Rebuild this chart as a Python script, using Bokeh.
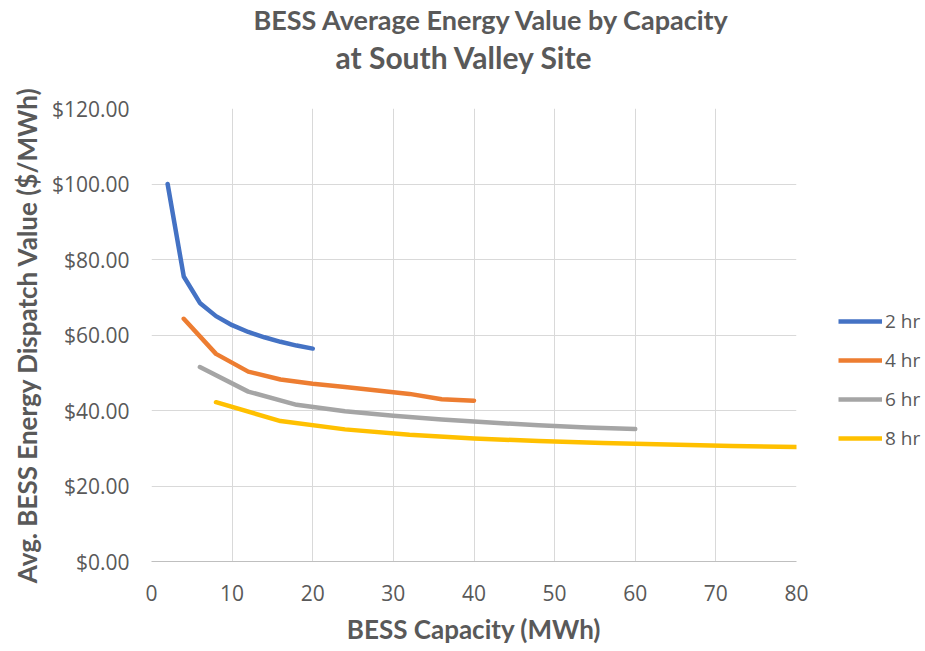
from bokeh.plotting import figure
from bokeh.layouts import row
from bokeh.models import Range1d, FixedTicker, NumeralTickFormatter, Legend, LegendItem, Title
from bokeh.embed import file_html
from bokeh.resources import INLINE

# BESS capacity (MWh) and average energy dispatch value ($/MWh) per duration
cap_2hr = [2, 4, 6, 8, 10, 12, 14, 16, 18, 20]
val_2hr = [100.0, 75.5, 68.5, 65.0, 62.6, 60.8, 59.4, 58.2, 57.2, 56.4]

cap_4hr = [4, 8, 12, 16, 20, 24, 28, 32, 36, 40]
val_4hr = [64.3, 55.0, 50.3, 48.2, 47.1, 46.2, 45.3, 44.4, 43.0, 42.6]

cap_6hr = [6, 12, 18, 24, 30, 36, 42, 48, 54, 60]
val_6hr = [51.5, 45.0, 41.5, 39.8, 38.6, 37.6, 36.8, 36.1, 35.5, 35.1]

cap_8hr = [8, 16, 24, 32, 40, 48, 56, 64, 72, 80]
val_8hr = [42.2, 37.2, 35.0, 33.6, 32.6, 31.9, 31.4, 31.0, 30.6, 30.3]

series_names = ["2 hr", "4 hr", "6 hr", "8 hr"]
series_colors = ["#4472C4", "#ED7D31", "#A5A5A5", "#FFC000"]

x_ticks = [0, 10, 20, 30, 40, 50, 60, 70, 80]
y_ticks = [0, 20, 40, 60, 80, 100, 120]

HEAD_FONT = "Lato"
TICK_FONT = "Open Sans"
TEXT = "#595959"
GRID = "#d9d9d9"

p = figure(
    width=830, height=651,
    x_range=Range1d(0, 80), y_range=Range1d(0, 120),
    output_backend="svg", toolbar_location=None,
    min_border_left=151, min_border_right=34,
    min_border_top=108, min_border_bottom=90,
    background_fill_color="white", border_fill_color="white",
)
p.outline_line_color = None
p.title.visible = False

# two-line chart title; the second line sits in the panel next to the frame
sub = Title(text="at South Valley Site", align="left", offset=184,
            text_font=HEAD_FONT, text_font_size="30px", text_font_style="bold",
            text_color=TEXT, standoff=68)
main = Title(text="BESS Average Energy Value by Capacity", align="left", offset=102,
             text_font=HEAD_FONT, text_font_size="27px", text_font_style="bold",
             text_color=TEXT, standoff=-67)
p.add_layout(sub, "above")
p.add_layout(main, "above")

# axes
p.xaxis.ticker = FixedTicker(ticks=x_ticks)
p.yaxis.ticker = FixedTicker(ticks=y_ticks)
p.yaxis.formatter = NumeralTickFormatter(format="$0.00")
for ax in (p.xaxis[0], p.yaxis[0]):
    ax.major_tick_line_color = None
    ax.minor_tick_line_color = None
    ax.major_label_text_font = TICK_FONT
    ax.major_label_text_font_size = "21px"
    ax.major_label_text_color = TEXT
    ax.axis_label_text_font = HEAD_FONT
    ax.axis_label_text_font_size = "26px"
    ax.axis_label_text_font_style = "bold"
    ax.axis_label_text_color = TEXT
p.xaxis.axis_label = "BESS Capacity (MWh)"
p.yaxis.axis_label = "Avg. BESS Energy Dispatch Value ($/MWh)"
p.xaxis.axis_line_color = "#bfbfbf"
p.yaxis.axis_line_color = None
p.xaxis.major_label_standoff = 17
p.yaxis.major_label_standoff = 16
p.xaxis.axis_label_standoff = 9
p.yaxis.axis_label_standoff = 6

p.xgrid.grid_line_color = GRID
p.ygrid.grid_line_color = GRID

caps = [cap_2hr, cap_4hr, cap_6hr, cap_8hr]
vals = [val_2hr, val_4hr, val_6hr, val_8hr]
for color, xs, ys in zip(series_colors, caps, vals):
    p.line(xs, ys, line_color=color, line_width=4.5, line_join="round", line_cap="round")

# legend panel to the right of the chart; its own view range keeps the
# proxy series out of sight so only the legend swatches show
lf = figure(
    width=95, height=651,
    x_range=Range1d(-2, -1), y_range=Range1d(-2, -1),
    x_axis_type=None, y_axis_type=None,
    output_backend="svg", toolbar_location=None,
    min_border=0, background_fill_color="white", border_fill_color="white",
)
lf.outline_line_color = None
lf.grid.visible = False
lf.title.visible = False
items = []
for name, color, xs, ys in zip(series_names, series_colors, caps, vals):
    r = lf.line(xs, ys, line_color=color, line_width=4.5)
    items.append(LegendItem(label=name, renderers=[r]))

legend = Legend(
    items=items, location=(8, 110),
    glyph_width=44, glyph_height=20, label_height=20, spacing=13,
    label_standoff=3, padding=0, margin=0,
    label_text_font=TICK_FONT, label_text_font_size="19px", label_text_color=TEXT,
    border_line_color=None, background_fill_alpha=0,
)
lf.add_layout(legend, "center")

layout = row(p, lf)
open("out.html", "w").write(file_html(layout, INLINE))
